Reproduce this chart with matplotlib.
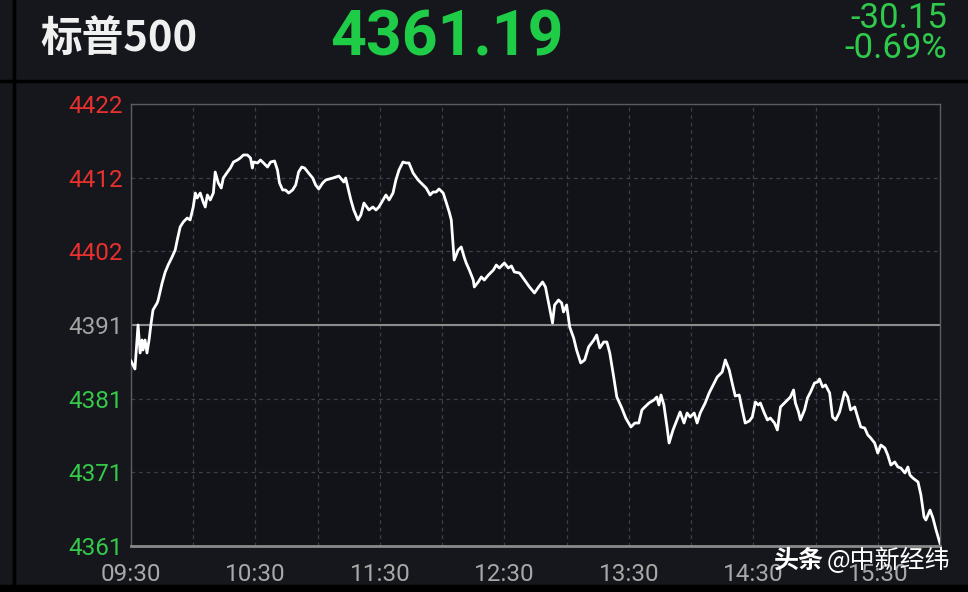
import numpy as np
import matplotlib.pyplot as plt
from matplotlib.lines import Line2D
from matplotlib.patches import Rectangle

plt.rcParams['font.family'] = ['Roboto', 'Noto Sans CJK SC', 'DejaVu Sans']

# header info
name = "标普500"
last = "4361.19"
change = "-30.15"
change_pct = "-0.69%"
prev_close = 4391.34

# intraday trace, minutes after 09:30
minutes = [0, 1.9, 2.9, 3.4, 4.4, 5.3, 5.8, 6.8, 7.7, 8.7, 9.7, 10.6, 12.6, 13.1, 15.0, 16.5, 17.9, 19.8, 21.3, 22.3,
           23.7, 25.2, 27.1, 28.5, 30.0, 31.0, 31.9, 33.4, 34.8, 35.8, 36.8, 38.2, 39.7, 40.6, 42.1, 43.5, 44.5, 46.5,
           47.9, 49.4, 51.3, 52.7, 54.2, 56.1, 57.6, 58.5, 59.0, 61.0, 62.4, 63.9, 65.8, 67.3, 69.2, 70.6, 71.6, 73.1,
           74.5, 76.0, 77.9, 79.4, 80.8, 82.3, 83.7, 85.6, 87.6, 89.0, 90.5, 92.4, 93.9, 97.3, 100.2, 102.6, 103.5,
           104.5, 106.0, 107.4, 109.4, 110.8, 112.3, 113.7, 114.7, 116.6, 118.1, 119.5, 121.5, 122.9, 124.4, 126.3,
           127.7, 129.2, 131.1, 132.6, 134.0, 136.0, 138.4, 140.8, 142.3, 144.2, 145.6, 147.1, 148.5, 150.5, 151.9,
           153.4, 154.4, 155.3, 155.8, 157.7, 159.2, 160.6, 161.6, 163.1, 165.0, 165.5, 167.4, 168.9, 170.3, 172.3,
           174.7, 176.1, 177.6, 180.0, 181.9, 183.4, 184.8, 187.3, 189.7, 192.1, 194.5, 196.5, 198.4, 199.8, 201.3,
           203.2, 204.2, 206.1, 207.6, 208.5, 210.0, 211.5, 213.4, 214.8, 216.8, 218.7, 220.6, 223.1, 224.5, 226.0,
           227.9, 229.4, 230.8, 232.7, 234.2, 236.6, 238.5, 241.0, 242.9, 244.8, 246.3, 247.7, 249.7, 252.1, 253.5,
           254.5, 255.5, 256.9, 258.4, 259.4, 261.3, 263.2, 264.7, 266.6, 268.1, 269.5, 271.5, 272.9, 274.4, 276.8,
           278.7, 281.1, 282.6, 285.0, 286.5, 288.4, 289.8, 291.3, 293.2, 294.7, 296.1, 298.1, 299.5, 301.0, 302.4,
           303.4, 305.3, 306.8, 308.2, 310.2, 311.6, 313.1, 315.5, 317.9, 319.4, 320.3, 321.8, 322.7, 324.7, 326.1,
           327.6, 329.5, 331.0, 331.9, 333.4, 334.8, 336.8, 338.2, 339.7, 341.6, 344.0, 345.5, 346.9, 348.9, 350.3,
           351.8, 353.7, 355.2, 356.6, 358.5, 360.0, 361.5, 363.4, 364.8, 366.3, 368.2, 369.7, 371.1, 373.1, 374.5,
           375.5, 376.9, 379.4, 380.8, 382.3, 383.2, 385.2, 386.6, 388.1, 390.0]
price = [4386.37, 4385.27, 4389.27, 4391.34, 4387.48, 4389.27, 4387.89, 4389.27, 4387.48, 4389.27, 4391.62, 4393.41,
         4394.38, 4394.79, 4397.14, 4398.66, 4399.62, 4400.73, 4401.69, 4403.08, 4404.87, 4405.56, 4406.11, 4405.84,
         4407.63, 4409.56, 4408.87, 4409.56, 4408.32, 4407.63, 4409.29, 4408.60, 4409.56, 4412.46, 4410.94, 4410.25,
         4411.63, 4412.46, 4413.01, 4413.84, 4414.12, 4414.40, 4414.81, 4414.81, 4414.40, 4413.01, 4413.84, 4413.71,
         4414.12, 4413.71, 4413.15, 4413.84, 4413.98, 4412.74, 4410.94, 4409.98, 4409.98, 4409.56, 4409.98, 4410.67,
         4412.46, 4413.15, 4413.01, 4412.32, 4411.63, 4410.67, 4410.12, 4410.94, 4411.36, 4411.63, 4411.91, 4411.08,
         4411.63, 4410.39, 4408.60, 4407.22, 4405.84, 4406.53, 4408.18, 4407.63, 4407.22, 4407.63, 4407.22, 4407.63,
         4408.60, 4409.29, 4408.60, 4409.56, 4411.36, 4412.74, 4413.84, 4413.71, 4413.71, 4412.32, 4411.36, 4410.67,
         4410.25, 4409.29, 4409.70, 4409.70, 4410.12, 4409.56, 4408.32, 4406.94, 4405.84, 4402.38, 4400.31, 4401.69,
         4402.11, 4400.73, 4399.90, 4398.93, 4397.55, 4396.59, 4397.28, 4397.97, 4397.55, 4398.24, 4398.93, 4399.62,
         4399.21, 4399.90, 4399.21, 4399.49, 4398.66, 4398.52, 4397.55, 4396.59, 4395.76, 4396.59, 4397.28, 4396.59,
         4394.38, 4391.62, 4394.10, 4394.79, 4394.38, 4393.14, 4394.10, 4391.06, 4389.55, 4387.89, 4386.10, 4386.51,
         4388.30, 4389.27, 4389.96, 4388.17, 4388.99, 4388.99, 4387.48, 4384.16, 4381.40, 4379.88, 4378.50, 4377.26,
         4377.81, 4377.81, 4379.61, 4380.02, 4380.57, 4380.99, 4381.40, 4380.30, 4381.68, 4380.30, 4377.26, 4375.05,
         4376.85, 4378.23, 4379.33, 4377.81, 4379.19, 4378.64, 4379.19, 4377.81, 4379.19, 4380.57, 4381.95, 4383.33,
         4384.16, 4384.85, 4386.51, 4385.13, 4383.33, 4381.54, 4381.68, 4379.61, 4377.81, 4378.09, 4378.64, 4380.71,
         4380.30, 4380.57, 4379.19, 4378.23, 4378.50, 4377.81, 4376.85, 4380.02, 4380.71, 4381.40, 4382.37, 4380.57,
         4379.33, 4378.23, 4379.61, 4381.26, 4382.09, 4383.33, 4383.47, 4383.89, 4382.78, 4383.06, 4381.95, 4378.64,
         4378.23, 4379.33, 4382.09, 4381.40, 4379.61, 4380.02, 4378.64, 4377.26, 4377.12, 4376.16, 4375.74, 4375.05,
         4373.67, 4374.77, 4374.36, 4373.39, 4372.01, 4372.43, 4371.74, 4371.60, 4370.91, 4371.74, 4370.63, 4370.22,
         4369.67, 4367.87, 4364.84, 4364.42, 4365.80, 4364.70, 4363.04, 4361.19]

ytick_vals = [4421.85, 4411.68, 4401.51, 4391.34, 4381.17, 4371.00, 4360.83]
ytick_labels = ["4422", "4412", "4402", "4391", "4381", "4371", "4361"]
ytick_colors = ["#e8312f", "#e8312f", "#e8312f", "#a3a3a3", "#35c94a", "#35c94a", "#35c94a"]
xtick_vals = [0, 60, 120, 180, 240, 300, 360]
xtick_labels = ["09:30", "10:30", "11:30", "12:30", "13:30", "14:30", "15:30"]

bg = '#15171c'
W, H = 968, 592
fig = plt.figure(figsize=(W / 100, H / 100), dpi=100, facecolor=bg)
ax = fig.add_axes([131 / W, 1 - 546 / H, (940 - 131) / W, (546 - 104) / H])
ax.set_facecolor('#111318')

ax.plot(minutes, price, color='white', lw=2.0, zorder=3)
ax.axhline(prev_close, color='#8c8c8c', lw=1.5, zorder=2)

ax.set_xlim(0, 390)
ax.set_ylim(4360.83, 4421.85)
ax.set_xticks(xtick_vals)
ax.set_xticklabels(xtick_labels)
ax.set_xticks(np.arange(30, 390, 60), minor=True)
ax.set_yticks(ytick_vals)
ax.set_yticklabels(ytick_labels)
for lbl, c in zip(ax.get_yticklabels(), ytick_colors):
    lbl.set_color(c)

ax.grid(which='both', axis='x', color='#3b404a', lw=0.9, ls=(0, (3, 3)))
ax.grid(which='major', axis='y', color='#3b404a', lw=0.9, ls=(0, (3, 3)))
ax.tick_params(which='both', length=0)
ax.tick_params(axis='y', labelsize=17.5, pad=6)
ax.tick_params(axis='x', labelsize=17.5, pad=12, labelcolor='#a8a8a8')
for s in ['top', 'right', 'left']:
    ax.spines[s].set_color('#5a5d63')
    ax.spines[s].set_linewidth(1)
ax.spines['bottom'].set_color('#8a8a8a')
ax.spines['bottom'].set_linewidth(2)

# panel frame lines
fig.add_artist(Line2D([14 / W, 14 / W], [0, 1], color='black', lw=2.5))
fig.add_artist(Line2D([0, 1], [1 - 81 / H, 1 - 81 / H], color='black', lw=2.5))
fig.add_artist(Rectangle((0, 0), 1, 7 / H, color='black', transform=fig.transFigure))

# header
fig.text(40 / W, 1 - 39 / H, name, fontsize=30, fontweight='bold', color='#f0f0f0', va='center',
         family=['Noto Sans CJK SC'])
fig.text(330 / W, 1 - 39 / H, last, fontsize=45, fontweight='bold', color='#1fcc47', va='center')
fig.text(947 / W, 1 - 19 / H, change, fontsize=25, color='#2fc94b', va='center', ha='right')
fig.text(947 / W, 1 - 49 / H, change_pct, fontsize=25, color='#2fc94b', va='center', ha='right')

# watermark (sits over the last time label, as in the source)
fig.text(773 / W, 1 - 561 / H, "头条", fontsize=18, fontweight='bold', color='white', va='center',
         family=['Noto Sans CJK SC'])
fig.text(827 / W, 1 - 561 / H, "@中新经纬", fontsize=18, color='white', va='center',
         family=['Noto Sans CJK SC'])

fig.savefig('out.png', dpi=100, facecolor=bg)
